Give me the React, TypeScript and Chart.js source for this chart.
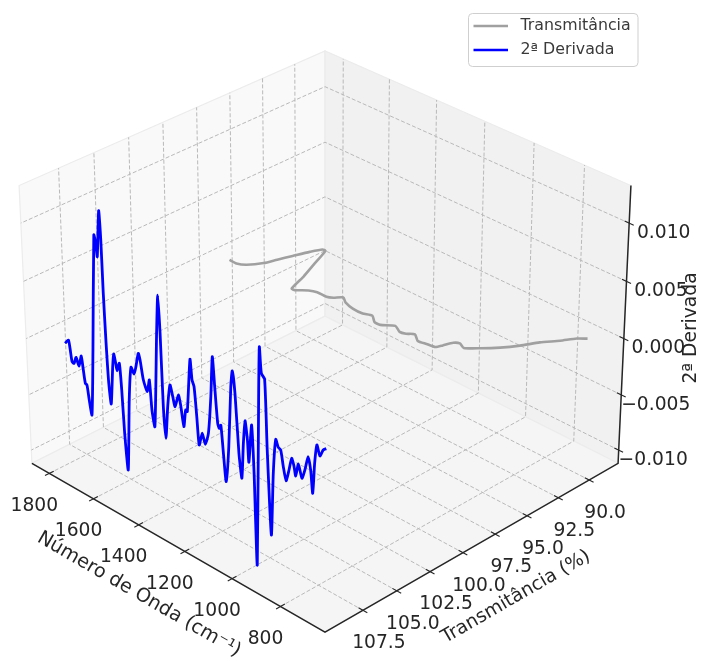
import React, { useEffect, useRef } from "react";
import Chart from "chart.js/auto";

const derivWave = [1797,1781,1775,1768,1759,1749,1737,1725,1718,1711,1704,1696,1686,1671,1649,1642,1637,1624,1619,1616,1611,1605,1597,1585,1579,1571,1566,1555,1548,1541,1530,1516,1504,1491,1482,1470,1463,1451,1435,1425,1417,1406,1388,1379,1373,1367,1359,1348,1336,1325,1316,1301,1292,1280,1271,1264,1248,1241,1233,1224,1216,1202,1190,1176,1163,1154,1146,1136,1130,1123,1114,1104,1091,1079,1072,1062,1049,1038,1030,1022,1013,1008,995,987,978,965,960,953,940,932,918,908,897,887,877,867,856,844,833,824,817,806,792,780,767,757,749,741,732,720,707,695];
const derivValues = [-38,7,-59,-170,-175,-111,-175,-73,-190,-300,-307,-432,-555,37,1049,986,877,1278,1036,586,159,-185,-358,-17,101,28,-32,45,-181,-556,-872,-233,66,21,95,223,173,12,-72,41,-212,-346,483,816,498,-128,-396,-107,95,5,-72,46,-30,-205,-50,-57,410,241,192,-57,-293,-175,-257,-147,183,533,287,-15,-51,-16,-250,-485,-167,360,501,323,-175,-379,-68,134,-21,-206,128,-278,-1070,401,824,610,575,-14,-734,-186,116,60,48,-83,-190,-85,28,-27,-105,10,-95,-11,116,16,-174,91,255,176,241,266].map(v => v / 100000);
const derivPlaneTrans = 108.81;
const transWave = [696,720,746,782,811,845,884,920,946,963,974,983,1014,1045,1078,1099,1120,1154,1190,1214,1245,1275,1317,1359,1385,1405,1424,1464,1490,1521,1535,1562,1592,1629,1642,1659,1678,1695,1709,1739,1767,1798];
const transValues = [89.0,89.4,90.2,91.1,92.1,93.0,93.8,94.4,94.2,94.4,95.0,95.4,95.5,95.6,95.2,95.5,95.6,95.3,95.8,95.8,95.4,95.6,95.6,95.4,95.1,95.5,95.7,95.7,95.9,96.4,96.4,95.0,93.7,92.1,92.1,92.8,93.8,94.7,95.5,96.3,96.6,96.6];

const waveTicks = [1800,1600,1400,1200,1000,800];
const transTicks = [107.5,105,102.5,100,97.5,95,92.5,90];
const derivTicks = [0.01,0.005,0,-0.005,-0.01];
const derivTickLabels = ["0.010","0.005","0.000","\u22120.005","\u22120.010"];
const waveLim = [1880.2,619.8];
const transLim = [110.25,87.62];
const derivLim = [-0.01121,0.01318];

const A = 0.5715*Math.SQRT2, C = 0.4286, E = 0.5, K = Math.sqrt(3)/2, D = 10, Sx = 370.4, Sy = 374, cx = 325, cy = 327.4;
function proj(wave:number, trans:number, deriv:number){
  const u=(wave-waveLim[0])/(waveLim[1]-waveLim[0]);
  const v=(trans-transLim[0])/(transLim[1]-transLim[0]);
  const w=(deriv-derivLim[0])/(derivLim[1]-derivLim[0]);
  const lat=A*(u+v-1), d=A*(u-v), h=C*(2*w-1);
  const f=D/(D-(d*K+h*E));
  return {x:cx+lat*f*Sx,y:cy-f*(h*K-d*E)*Sy};
}
const [x0,x1]=waveLim,[y0,y1]=transLim,[z0,z1]=derivLim;
const GRID="#b9b9b9", INK="#262626";
const gridDs=(pts:number[][])=>({data:pts.map(p=>proj(p[0],p[1],p[2])),borderColor:GRID,borderWidth:1,borderDash:[4,2],pointRadius:0,showLine:true,tension:0,order:6});
const inkDs=(pts:number[][],bw:number)=>({data:pts.map(p=>proj(p[0],p[1],p[2])),borderColor:INK,borderWidth:bw,pointRadius:0,showLine:true,tension:0,order:4});
const dy=(y1-y0)*0.014, dx=(x1-x0)*0.014;

const panes:{pts:number[][],fill:string}[]=[
  {pts:[[x0,y0,z0],[x0,y1,z0],[x0,y1,z1],[x0,y0,z1]],fill:"#f9f9f9"},
  {pts:[[x0,y1,z0],[x1,y1,z0],[x1,y1,z1],[x0,y1,z1]],fill:"#f1f1f1"},
  {pts:[[x0,y0,z0],[x1,y0,z0],[x1,y1,z0],[x0,y1,z0]],fill:"#f5f5f5"},
];
const FONT='"DejaVu Sans"';
const panePlugin={id:"panes",beforeDatasetsDraw(c:any){
  const g=c.ctx,sx=c.scales.x,sy=c.scales.y;
  g.save();
  for(const p of panes){
    g.beginPath();
    p.pts.forEach((q,i)=>{const s=proj(q[0],q[1],q[2]);const X=sx.getPixelForValue(s.x),Y=sy.getPixelForValue(s.y);i?g.lineTo(X,Y):g.moveTo(X,Y);});
    g.closePath();g.fillStyle=p.fill;g.fill();g.strokeStyle="#ececec";g.lineWidth=1.2;g.stroke();
  }
  g.restore();
}};
const textPlugin={id:"texts",afterDraw(c:any){
  const g=c.ctx,sx=c.scales.x,sy=c.scales.y;
  const put=(t:string,px:number,py:number,rot:number,size:number,col:string,al:CanvasTextAlign="center")=>{
    g.save();g.translate(px,py);g.rotate(rot);g.font=`${size}px ${FONT}`;g.fillStyle=col;g.textAlign=al;g.textBaseline="middle";g.fillText(t,0,0);g.restore();
  };
  const at=(w:number,t:number,z:number)=>{const s=proj(w,t,z);return {x:sx.getPixelForValue(s.x),y:sy.getPixelForValue(s.y)};};
  waveTicks.forEach(w=>{const p=at(w,y0,z0);put(String(w),p.x-15,p.y+32.5,0,18.7,INK);});
  transTicks.forEach(t=>{const p=at(x1,t,z0);put(t.toFixed(1),p.x+16,p.y+33,0,18.7,INK);});
  derivTicks.forEach((z,i)=>{const p=at(x1,y1,z);put(derivTickLabels[i],p.x+34.5,p.y+10,0,18.7,INK);});
  put("Número de Onda (cm⁻¹)",139,594.5,Math.PI/6,19.2,INK);
  put("Transmitância (%)",516,597,-Math.PI/6,18.7,INK);
  put("2ª Derivada",691,328,-Math.PI/2,18.7,INK);
  g.save();
  g.beginPath();g.roundRect(468.5,13.5,169.5,53,4);g.fillStyle="rgba(255,255,255,0.8)";g.fill();g.strokeStyle="#cfcfcf";g.lineWidth=1;g.stroke();
  g.lineWidth=2.6;
  g.strokeStyle="#a0a0a0";g.beginPath();g.moveTo(473.5,26);g.lineTo(508,26);g.stroke();
  g.strokeStyle="#0000ff";g.beginPath();g.moveTo(473.5,50);g.lineTo(508,50);g.stroke();
  g.restore();
  put("Transmitância",520.5,26,0,15.8,"#3a3a3a","left");
  put("2ª Derivada",520.5,50,0,15.8,"#3a3a3a","left");
}};

export default function App(){
  const ref=useRef<HTMLCanvasElement>(null);
  useEffect(()=>{
    const datasets:any[]=[];
    waveTicks.forEach(w=>datasets.push(gridDs([[w,y0,z0],[w,y1,z0],[w,y1,z1]])));
    transTicks.forEach(t=>datasets.push(gridDs([[x1,t,z0],[x0,t,z0],[x0,t,z1]])));
    derivTicks.forEach(z=>datasets.push(gridDs([[x1,y1,z],[x0,y1,z],[x0,y0,z]])));
    datasets.push(inkDs([[x0,y0,z0],[x1,y0,z0],[x1,y1,z0],[x1,y1,z1]],1.5));
    waveTicks.forEach(w=>datasets.push(inkDs([[w,y0-dy,z0],[w,y0+dy,z0]],1.1)));
    transTicks.forEach(t=>datasets.push(inkDs([[x1-dx,t,z0],[x1+dx,t,z0]],1.1)));
    derivTicks.forEach(z=>datasets.push(inkDs([[x1-dx,y1,z],[x1+dx,y1,z]],1.1)));
    datasets.push({label:"Transmitância",data:transWave.map((w,i)=>proj(w,transValues[i],0)),borderColor:"#a0a0a0",borderWidth:2.6,pointRadius:0,showLine:true,tension:0.2,order:2});
    datasets.push({label:"2ª Derivada",data:derivWave.map((w,i)=>proj(w,derivPlaneTrans,derivValues[i])),borderColor:"#0000ff",borderWidth:2.8,pointRadius:0,showLine:true,tension:0.2,order:1});
    const chart=new Chart(ref.current!,{type:"scatter",data:{datasets},plugins:[panePlugin,textPlugin],options:{
      responsive:false,animation:false,
      layout:{padding:0},
      plugins:{legend:{display:false},tooltip:{enabled:false}},
      events:[],
      scales:{x:{type:"linear",min:0,max:702,display:false},y:{type:"linear",min:0,max:657,reverse:true,display:false}},
    }} as any);
    return ()=>chart.destroy();
  },[]);
  return <canvas ref={ref} width={702} height={657} style={{position:"absolute",left:0,top:0,display:"block"}}/>;
}
